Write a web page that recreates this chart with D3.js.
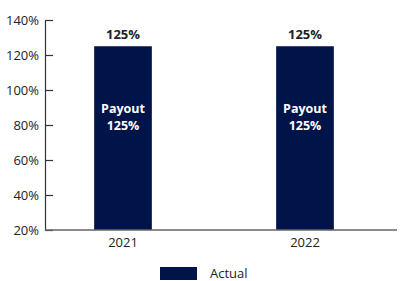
<!DOCTYPE html>
<html><head><meta charset="utf-8">
<script src="https://cdn.jsdelivr.net/npm/d3@7"></script>
<style>body{margin:0;background:#fff}svg{display:block}text{font-family:"Open Sans",sans-serif;fill:#222}</style>
</head><body><svg id="c" width="400" height="281"></svg>
<script>
const categories = ["2021", "2022"];
const actual = [125, 125];
const yTicks = [20, 40, 60, 80, 100, 120, 140];
const legendLabel = "Actual";
const insideLabel = "Payout";

const svg = d3.select("#c");
const navy = "#00144a";
const x = d3.scaleBand().domain(categories).range([32, 396]).paddingInner(0.683).paddingOuter(0.3415);
const y = d3.scaleLinear().domain([20, 140]).range([230, 20]);

// y axis
const ya = svg.append("g").attr("transform", "translate(45,0)")
  .call(d3.axisRight(y).tickValues(yTicks).tickFormat(d => d + "%").tickSize(8).tickSizeOuter(0));
ya.select(".domain").attr("stroke", "#333").attr("stroke-width", 1.2);
ya.selectAll(".tick line").attr("stroke", "#333").attr("stroke-width", 1.2);
ya.selectAll(".tick text").attr("x", -6).attr("text-anchor", "end").style("font-size", "13px").attr("fill", "#222");

// bars
svg.selectAll("rect.bar").data(actual).join("rect").attr("class", "bar")
  .attr("x", (d, i) => x(categories[i])).attr("width", x.bandwidth())
  .attr("y", d => y(d)).attr("height", d => y(20) - y(d)).attr("fill", navy);

// x axis
const xa = svg.append("g").attr("transform", "translate(0,230)")
  .call(d3.axisBottom(x).tickSize(0));
xa.select(".domain").remove();
svg.append("line").attr("x1", 45).attr("x2", 397).attr("y1", 230).attr("y2", 230)
  .attr("stroke", "#666").attr("stroke-width", 1.3);
xa.selectAll(".tick text").attr("dy", "0.71em").attr("y", 8).style("font-size", "13px").attr("fill", "#222");

// labels
svg.selectAll("text.top").data(actual).join("text").attr("class", "top")
  .attr("x", (d, i) => x(categories[i]) + x.bandwidth() / 2).attr("y", d => y(d) - 7)
  .attr("text-anchor", "middle").style("font-size", "13px").style("font-weight", "700").text(d => d + "%");
svg.selectAll("text.in1").data(actual).join("text").attr("class", "in1")
  .attr("x", (d, i) => x(categories[i]) + x.bandwidth() / 2).attr("y", 112.5)
  .attr("text-anchor", "middle").style("font-size", "12.5px").style("font-weight", "700").style("fill", "#fff").text(insideLabel);
svg.selectAll("text.in2").data(actual).join("text").attr("class", "in2")
  .attr("x", (d, i) => x(categories[i]) + x.bandwidth() / 2).attr("y", 130)
  .attr("text-anchor", "middle").style("font-size", "12.5px").style("font-weight", "700").style("fill", "#fff").text(d => d + "%");

// legend
svg.append("rect").attr("x", 160).attr("y", 267).attr("width", 37).attr("height", 13).attr("fill", navy);
svg.append("text").attr("x", 210).attr("y", 277.5).style("font-size", "13px").text(legendLabel);
</script></body></html>
